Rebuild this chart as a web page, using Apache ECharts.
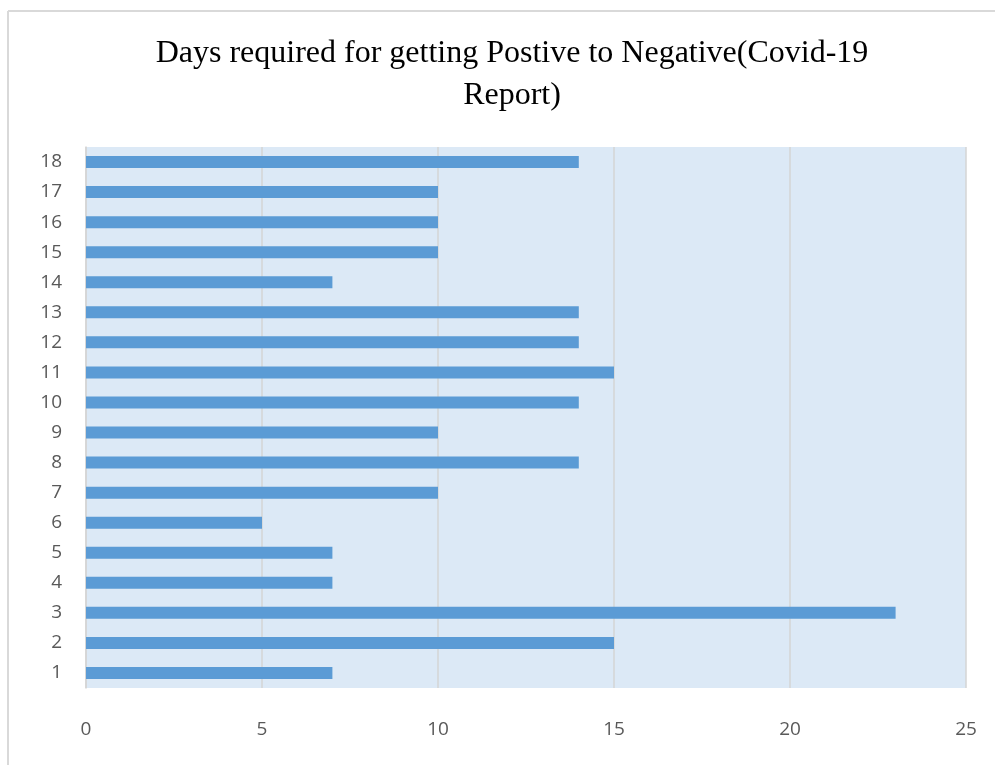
<!DOCTYPE html>
<html>
<head>
<meta charset="utf-8">
<script src="https://cdn.jsdelivr.net/npm/echarts@6/dist/echarts.min.js"></script>
<style>html,body{margin:0;padding:0;background:#fff}#c{width:995px;height:765px}</style>
</head>
<body>
<div id="c"></div>
<script>
const categories = ['1','2','3','4','5','6','7','8','9','10','11','12','13','14','15','16','17','18'];
const days = [7,15,23,7,7,5,10,14,10,14,15,14,14,7,10,10,10,14];
const xTicks = [0,5,10,15,20,25];
const titleText = 'Days required for getting Postive to Negative(Covid-19\nReport)';

const chart = echarts.init(document.getElementById('c'), null, {renderer:'canvas'});
chart.setOption({
  animation: false,
  backgroundColor: '#ffffff',
  title: {
    text: titleText,
    left: 507, top: 28, textAlign: 'center',
    textStyle: {fontFamily: 'Liberation Serif', fontSize: 32, fontWeight: 'normal', color: '#000', lineHeight: 42}
  },
  graphic: [
    {type:'line', shape:{x1:8,y1:11,x2:995,y2:11}, style:{stroke:'#d9d9d9', lineWidth:2}},
    {type:'line', shape:{x1:8,y1:11,x2:8,y2:765}, style:{stroke:'#d9d9d9', lineWidth:2}}
  ],
  grid: {left: 86, right: 29, top: 147, bottom: 77, show: true, backgroundColor: '#dce9f6', borderWidth: 0},
  xAxis: {
    type: 'value', min: xTicks[0], max: xTicks[xTicks.length-1], interval: 5,
    axisLine: {show: false}, axisTick: {show: false},
    splitLine: {show: true, lineStyle: {color: '#d4d4d4', width: 1.5}},
    axisLabel: {margin: 32, color: '#595959', fontSize: 19, fontFamily: 'Open Sans'}
  },
  yAxis: {
    type: 'category', data: categories,
    axisLine: {show: true, lineStyle: {color: '#d4d4d4', width: 1.5}},
    axisTick: {show: false},
    axisLabel: {margin: 24, color: '#595959', fontSize: 19, fontFamily: 'Open Sans'}
  },
  series: [{
    type: 'bar', data: days, barWidth: '40%',
    itemStyle: {color: '#5b9bd5'}
  }]
});
</script>
</body>
</html>
